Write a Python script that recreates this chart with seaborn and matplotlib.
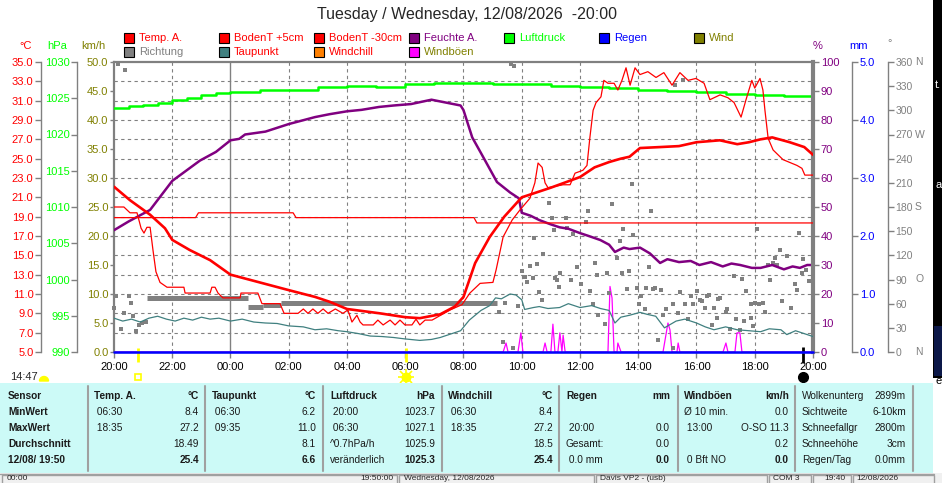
import matplotlib
matplotlib.use('Agg')
import matplotlib.pyplot as plt
import matplotlib.transforms as mtransforms
from matplotlib.patches import Rectangle, Wedge
import seaborn as sns

W, H = 942, 483

ROT = '#ff0000'
GRUEN = '#00ff00'
OLIV = '#808000'
LILA = '#800080'
BLAU = '#0000ff'
GRAU = '#808080'
TEAL = '#408080'
ORANGE = '#ff8000'
MAGENTA = '#ff00ff'
CYAN_BG = '#ccfaf7'

# Zeitachse: Stunden ab Dienstag 20:00
zeit_ticks = [0, 2, 4, 6, 8, 10, 12, 14, 16, 18, 20, 22, 24]
zeit_labels = ['20:00', '22:00', '00:00', '02:00', '04:00', '06:00', '08:00',
               '10:00', '12:00', '14:00', '16:00', '18:00', '20:00']

# Temp. A. (°C)
temp_h = [0, 0.55, 1.24, 1.75, 2, 2.6, 3.3, 4.0, 5.0, 6.0,
          6.9, 7.4, 8.0, 9.13, 10.0, 10.5, 11.2, 11.7, 12.0, 12.4,
          12.9, 13.4, 14.0, 15.0, 16.0, 16.5, 17.0, 17.4, 17.7, 18.06,
          18.75, 19.4, 20.0, 20.8, 21.4, 21.8, 22.2, 22.6, 23.2, 23.7,
          24]
temp_c = [22.1, 20.7, 19.2, 17.8, 16.6, 15.55, 14.5, 13.0, 12.2, 11.4,
          10.7, 10.2, 9.45, 9.0, 8.6, 8.5, 8.9, 9.7, 10.7, 14.2,
          16.9, 19.0, 21.0, 22.0, 23.1, 24.1, 24.65, 25.0, 25.2, 26.1,
          26.2, 26.3, 26.7, 26.9, 26.5, 26.7, 27.0, 27.2, 26.7, 26.2,
          25.4]

# BodenT +5cm (°C)
boden5_h = [0, 0.34, 0.55, 0.79, 0.93, 1.03, 1.13, 1.24, 1.34, 1.44,
            1.58, 1.82, 2.4, 2.44, 3.3, 3.36, 3.47, 3.57, 3.74, 4.33,
            4.36, 4.94, 5.08, 5.7, 5.84, 6.32, 6.5, 6.66, 6.83, 7.0,
            7.18, 7.35, 7.6, 7.86, 8.03, 8.17, 8.34, 8.45, 8.55, 8.9,
            9.06, 9.24, 9.48, 9.65, 9.82, 9.99, 10.23, 10.37, 10.5, 10.68,
            10.92, 11.54, 11.95, 12.22, 12.57, 13.01, 13.12, 13.36, 13.67, 13.94,
            14.28, 14.45, 14.56, 14.7, 14.8, 14.9, 15.42, 15.66, 15.83, 16.1,
            16.24, 16.34, 16.45, 16.55, 16.72, 16.82, 16.96, 17.17, 17.3, 17.44,
            17.58, 17.72, 17.89, 18.06, 18.33, 18.61, 18.88, 19.16, 19.43, 19.71,
            19.98, 20.26, 20.46, 20.81, 21.08, 21.29, 21.53, 21.7, 21.9, 22.0,
            22.18, 22.28, 22.35, 22.46, 22.63, 22.97, 23.45, 23.62, 23.72, 24]
boden5_c = [20.0, 20.0, 19.4, 19.4, 17.8, 17.3, 17.9, 17.9, 15.5, 13.3,
            12.2, 11.7, 11.7, 11.1, 11.1, 11.7, 11.7, 11.1, 10.6, 10.6,
            11.1, 11.1, 10.0, 10.0, 9.0, 9.0, 9.45, 9.0, 9.45, 9.0,
            9.45, 9.0, 9.45, 9.0, 9.35, 8.1, 8.8, 8.1, 7.8, 7.8,
            8.3, 7.8, 8.3, 7.8, 8.3, 7.8, 7.8, 8.4, 7.8, 8.3,
            8.3, 9.35, 9.9, 11.1, 12.1, 12.2, 13.5, 16.9, 18.65, 19.7,
            20.9, 22.5, 24.55, 24.1, 22.5, 22.0, 22.3, 22.3, 23.5, 23.8,
            24.3, 27.2, 30.0, 30.8, 31.4, 33.1, 32.8, 32.8, 32.1, 33.1,
            34.4, 32.6, 34.4, 33.7, 34.0, 33.4, 33.9, 32.6, 33.9, 33.1,
            33.3, 32.8, 31.1, 31.6, 31.3, 30.8, 29.3, 31.1, 33.1, 32.3,
            33.3, 32.1, 30.0, 27.1, 25.9, 24.9, 24.3, 24.0, 23.3, 23.3]

# BodenT -30cm (°C)
boden30_h = [0, 2.8, 2.9, 6.15, 6.25, 12.36, 12.46, 24]
boden30_c = [18.9, 18.9, 19.4, 19.4, 18.9, 18.9, 18.35, 18.35]

# Taupunkt (°C)
tau_h = [0, 0.3, 0.6, 0.9, 1.2, 1.5, 1.8, 2.1, 2.4, 2.7,
         3.0, 3.3, 3.6, 4.0, 4.4, 4.8, 5.2, 5.6, 6.0, 6.5,
         6.9, 7.3, 7.7, 8.0, 8.4, 8.8, 9.2, 9.6, 10.0, 10.5,
         10.9, 11.2, 11.6, 11.9, 12.2, 12.6, 12.9, 13.1, 13.3, 13.6,
         13.8, 14.0, 14.1, 14.4, 14.6, 14.9, 15.3, 15.6, 16.0, 16.4,
         16.7, 17.0, 17.2, 17.4, 17.7, 18.06, 18.3, 18.6, 18.9, 19.3,
         19.6, 20.0, 20.3, 20.6, 21.0, 21.4, 21.8, 22.2, 22.5, 22.9,
         23.1, 23.4, 23.7, 24]
tau_c = [8.5, 8.2, 8.4, 8.1, 8.5, 8.7, 8.4, 8.2, 8.5, 8.3,
         8.6, 8.4, 8.5, 8.2, 8.4, 8.1, 8.0, 7.95, 7.7, 7.6,
         7.3, 7.4, 7.2, 7.1, 6.9, 6.65, 6.6, 6.5, 6.35, 6.2,
         6.3, 6.5, 6.9, 7.2, 8.3, 9.3, 9.8, 10.6, 10.5, 11.0,
         10.9, 10.4, 9.4, 9.6, 9.7, 9.5, 9.6, 10.0, 9.6, 9.8,
         9.5, 9.3, 8.0, 8.6, 8.8, 9.1, 8.9, 8.7, 7.5, 8.2,
         8.4, 8.0, 7.6, 7.3, 7.6, 7.3, 7.2, 7.1, 7.4, 7.3,
         6.8, 7.2, 6.9, 6.6]

# Feuchte A. (%)
feuchte_h = [0, 0.5, 1.24, 2, 2.95, 3.5, 4.0, 4.3, 4.5, 5.2,
             6, 6.9, 7.4, 8.0, 8.5, 9.1, 9.6, 10.2, 10.9, 11.4,
             11.9, 12.0, 12.3, 12.6, 13.15, 13.6, 13.9, 14.0, 14.3, 14.6,
             15.0, 15.3, 15.6, 16.0, 16.3, 16.7, 17.0, 17.2, 17.5, 17.7,
             18.06, 18.4, 18.75, 19.0, 19.4, 19.8, 20.1, 20.5, 20.9, 21.2,
             21.5, 21.9, 22.2, 22.6, 23.0, 23.3, 23.55, 23.8, 24]
feuchte_pct = [42, 45, 49, 59, 66, 69, 73, 73.5, 75, 76,
               78.6, 81, 82, 83, 83.5, 84.5, 85, 85.5, 87, 86,
               85, 83.4, 74, 68.6, 58.6, 55, 53, 48, 47, 45.5,
               44, 43, 42.5, 41, 40, 38.6, 37, 34.5, 36, 35.5,
               36, 34, 30.7, 32, 31, 31.4, 30, 31, 29.5, 30.5,
               30, 29, 29, 30, 28.5, 29.5, 29, 30, 30]

# Luftdruck (hPa)
luft_h = [0, 0.5, 1, 1.5, 2, 2.5, 3, 3.5, 4, 4.5,
          5, 6, 7, 8, 9, 10, 11, 12, 13, 14,
          15, 16, 17, 18, 19, 20, 21, 22, 23, 24]
luft_hpa = [1023.7, 1023.9, 1024.1, 1024.4, 1024.8, 1025.1, 1025.45, 1025.7, 1025.9, 1025.9,
            1026.1, 1026.2, 1026.5, 1026.7, 1026.6, 1026.9, 1027.1, 1027.05, 1027.0, 1026.9,
            1026.7, 1026.5, 1026.35, 1026.2, 1026.0, 1025.9, 1025.65, 1025.45, 1025.35, 1025.3]

# Windböen (km/h)
boeen_h = [0, 13.36, 13.46, 13.53, 13.87, 13.97, 14.04, 14.73, 14.8, 14.87,
           15.0, 15.07, 15.14, 15.24, 15.31, 15.38, 15.42, 15.49, 16.96, 17.03,
           17.1, 17.17, 17.27, 17.3, 17.41, 18.85, 19.02, 19.09, 19.16, 19.33,
           19.37, 19.43, 20.91, 21.01, 21.08, 21.32, 21.39, 21.49, 21.56, 24]
boeen_kmh = [0, 0, 1.55, 0, 0, 3.3, 0, 0, 1.55, 0,
             0, 4.8, 0, 0, 3.3, 0, 2.9, 0, 0, 11.3,
             9.3, 0, 0, 1.55, 0, 0, 5.0, 3.8, 0, 0,
             1.55, 0, 0, 1.55, 0, 0, 3.3, 3.3, 0, 0]

# Regen (mm)
regen_h = [0, 24]
regen_mm = [0.0, 0.0]

# Richtung (°), Einzelwerte
richtung_h = [0.00, 0.07, 0.14, 0.24, 0.34, 0.38, 0.52, 0.58, 0.65, 0.76,
              0.86, 0.96, 1.10, 13.22, 13.36, 13.42, 13.63, 13.70, 13.73, 13.87,
              14.00, 14.11, 14.18, 14.28, 14.39, 14.42, 14.52, 14.59, 14.70, 14.73,
              14.94, 15.04, 15.11, 15.14, 15.21, 15.28, 15.31, 15.52, 15.55, 15.69,
              15.76, 15.90, 16.03, 16.21, 16.27, 16.34, 16.45, 16.52, 16.58, 16.62,
              16.86, 16.93, 17.00, 17.10, 17.27, 17.37, 17.44, 17.48, 17.61, 17.68,
              17.79, 17.82, 17.96, 18.03, 18.09, 18.23, 18.27, 18.37, 18.44, 18.51,
              18.58, 18.68, 18.78, 18.85, 18.95, 19.19, 19.19, 19.26, 19.37, 19.43,
              19.54, 19.61, 19.71, 19.81, 19.88, 20.02, 20.12, 20.19, 20.29, 20.36,
              20.43, 20.53, 20.60, 20.70, 20.74, 20.81, 21.01, 21.05, 21.15, 21.29,
              21.36, 21.49, 21.56, 21.63, 21.70, 21.87, 21.87, 21.94, 22.01, 22.08,
              22.15, 22.28, 22.35, 22.46, 22.52, 22.63, 22.70, 22.76, 22.87, 22.94,
              23.11, 23.24, 23.38, 23.45, 23.52, 23.62, 23.66, 23.76, 23.86]
richtung_grad = [54.6, 69.5, 358, 28.6, 48.4, 350, 69.5, 60.8, 44.7, 26.1,
                 33.5, 36.0, 37.2, 49.7, 12.4, 60.8, 358, 5.0, 355, 57.1,
                 100.6, 93.1, 86.9, 106.8, 91.9, 141.5, 109.2, 74.5, 64.6, 121.7,
                 185.0, 166.3, 151.5, 91.9, 89.4, 80.7, 98.1, 166.3, 153.9, 89.4,
                 146.5, 105.5, 84.4, 161.4, 175.0, 75.7, 59.6, 110.5, 95.6, 45.9,
                 34.8, 98.1, 73.2, 183.7, 116.7, 137.8, 98.1, 152.7, 78.2, 100.6,
                 208.6, 145.2, 79.4, 59.6, 69.5, 53.4, 79.4, 105.5, 175.0, 78.2,
                 79.4, 14.9, 77.0, 45.9, 53.4, 5.0, 59.6, 331.5, 48.4, 74.5,
                 337.7, 59.6, 41.0, 69.5, 59.6, 75.7, 64.6, 63.3, 54.6, 69.5,
                 70.8, 33.5, 54.6, 42.2, 65.8, 67.0, 49.7, 53.4, 28.6, 94.3,
                 41.0, 27.3, 90.6, 38.5, 75.7, 59.6, 42.2, 32.3, 60.8, 152.7,
                 59.6, 60.8, 49.7, 108.0, 89.4, 110.5, 116.7, 108.0, 126.6, 63.3,
                 119.2, 54.6, 84.4, 77.0, 147.7, 98.1, 115.5, 101.8, 88.1]

# Richtung, dichte Abschnitte in der Nacht
richtung_block_von = [1.13, 4.60, 5.10, 5.75]
richtung_block_bis = [4.60, 5.10, 5.75, 13.15]
richtung_block_grad = [67, 56, 58, 61]

# Sonnenuntergang, Sonnenaufgang, aktuelle Zeit
sonne_unter_h = 0.82
sonne_auf_h = 10.03
jetzt_h = 23.67

# Achsen-Beschriftungen
temp_ticks = [5, 7, 9, 11, 13, 15, 17, 19, 21, 23, 25, 27, 29, 31, 33, 35]
hpa_ticks = [990, 995, 1000, 1005, 1010, 1015, 1020, 1025, 1030]
kmh_ticks = [0, 5, 10, 15, 20, 25, 30, 35, 40, 45, 50]
pct_ticks = [0, 10, 20, 30, 40, 50, 60, 70, 80, 90, 100]
mm_ticks = [0, 1, 2, 3, 4, 5]
grad_ticks = [0, 30, 60, 90, 120, 150, 180, 210, 240, 270, 300, 330, 360]
grad_himmel = {360: 'N', 270: 'W', 180: 'S', 90: 'O', 0: 'N'}

# Legende
legende_namen = ['Temp. A.', 'BodenT +5cm', 'BodenT -30cm', 'Feuchte A.', 'Luftdruck', 'Regen', 'Wind',
                 'Richtung', 'Taupunkt', 'Windchill', 'Windböen']
legende_box = [ROT, ROT, ROT, LILA, GRUEN, BLAU, OLIV, GRAU, TEAL, ORANGE, MAGENTA]
legende_text = [ROT, ROT, ROT, LILA, GRUEN, BLAU, OLIV, GRAU, ROT, ROT, OLIV]

# Tabelle unten
tab_links = [
    ['Sensor', 'MinWert', 'MaxWert', 'Durchschnitt', '12/08/ 19:50'],
    ['Temp. A.', ' 06:30', ' 18:35', '', ''],
    ['Taupunkt', ' 06:30', ' 09:35', '', ''],
    ['Luftdruck', ' 20:00', ' 06:30', '^0.7hPa/h', 'veränderlich'],
    ['Windchill', ' 06:30', ' 18:35', '', ''],
    ['Regen', '', ' 20:00', 'Gesamt:', ' 0.0 mm'],
    ['Windböen', 'Ø 10 min.', ' 13:00', '', ' 0 Bft NO'],
    ['Wolkenunterg', 'Sichtweite', 'Schneefallgr', 'Schneehöhe', 'Regen/Tag'],
]
tab_rechts = [
    ['', '', '', '', ''],
    ['°C', '8.4', '27.2', '18.49', '25.4'],
    ['°C', '6.2', '11.0', '8.1', '6.6'],
    ['hPa', '1023.7', '1027.1', '1025.9', '1025.3'],
    ['°C', '8.4', '27.2', '18.5', '25.4'],
    ['mm', '', '0.0', '0.0', '0.0'],
    ['km/h', '0.0', 'O-SO 11.3', '0.2', '0.0'],
    ['2899m', '6-10km', '2800m', '3cm', '0.0mm'],
]
status_texte = ['00:00', 'Wednesday, 12/08/2026', 'Davis VP2 - (usb)', 'COM 3', '19:40', '12/08/2026']


sns.set_style('white')
plt.rcParams['font.family'] = ['Liberation Sans', 'DejaVu Sans']
plt.rcParams['axes.linewidth'] = 1.0


def fx(x):
    return x / W


def fy(y):
    return 1 - y / H


fig = plt.figure(figsize=(W / 100, H / 100), dpi=100, facecolor='white')
ax = fig.add_axes([fx(114), fy(352), 699 / W, 290 / H])
ax.set_facecolor('white')


def zusatzachse(seite, pos, ticks, labels, farbe, groesse=8):
    a = ax.twinx()
    for s in a.spines.values():
        s.set_visible(False)
    a.spines[seite].set_visible(True)
    a.spines[seite].set_position(('axes', pos))
    a.spines[seite].set_color(GRAU)
    a.spines[seite].set_linewidth(1.0)
    if seite == 'left':
        a.yaxis.tick_left()
    else:
        a.yaxis.tick_right()
    a.set_yticks(ticks, labels)
    a.tick_params(axis='y', color=GRAU, labelcolor=farbe, length=4, width=1,
                  labelsize=groesse, pad=1.5, left=(seite == 'left'), right=(seite == 'right'))
    a.grid(False)
    return a


ax_grad = zusatzachse('right', 1.1073, grad_ticks, [str(g) for g in grad_ticks], GRAU, 7.5)
ax_hpa = zusatzachse('left', -0.0529, hpa_ticks, [str(p) for p in hpa_ticks], GRUEN)
ax_pct = zusatzachse('right', 1.0, pct_ticks, [str(p) for p in pct_ticks], LILA)
ax_c = zusatzachse('left', -0.1044, temp_ticks, [f'{t:.1f}' for t in temp_ticks], ROT)
ax_mm = zusatzachse('right', 1.0558, mm_ticks, [f'{m:.1f}' for m in mm_ticks], BLAU)
ax_pct.spines['right'].set_linewidth(3.0)

# Rahmen der Hauptachse (km/h)
for s in ['top', 'left']:
    ax.spines[s].set_color(GRAU)
    ax.spines[s].set_linewidth(1.6)
ax.spines['bottom'].set_color(GRAU)
ax.spines['bottom'].set_linewidth(1.0)
ax.spines['right'].set_visible(False)
ax.set_yticks(kmh_ticks, [f'{v:.1f}' for v in kmh_ticks])
ax.set_xticks(zeit_ticks, zeit_labels)
ax.tick_params(axis='y', color=GRAU, labelcolor=OLIV, length=3, width=1, labelsize=8, pad=1, left=True)
ax.tick_params(axis='x', color=GRAU, labelcolor='black', length=4, width=1, labelsize=8, pad=3, bottom=True)
ax.grid(False)

# Gitter
for t, lab in zip(zeit_ticks[1:-1], zeit_labels[1:-1]):
    if lab == '00:00':
        ax.axvline(t, color=GRAU, lw=1.0, ls='-', zorder=0)
    else:
        ax.axvline(t, color=GRAU, lw=0.8, ls=(0, (3, 3)), zorder=0)
trans_c = mtransforms.blended_transform_factory(ax.transAxes, ax_c.transData)
ax.hlines(temp_ticks[1:-1], 0, 1, transform=trans_c, color=GRAU, lw=0.8, ls=(0, (3, 3)), zorder=0)

# Windböen
sns.lineplot(x=boeen_h, y=boeen_kmh, ax=ax, color=MAGENTA, linewidth=0.9)

# Richtung
for von, bis, g in zip(richtung_block_von, richtung_block_bis, richtung_block_grad):
    ax_grad.hlines(g, von, bis, color=GRAU, lw=3.6)
sns.scatterplot(x=richtung_h, y=richtung_grad, ax=ax_grad, marker='s', s=11,
                color=GRAU, linewidth=0, clip_on=False)

# Luftdruck
sns.lineplot(x=luft_h, y=luft_hpa, ax=ax_hpa, color=GRUEN, linewidth=1.8, drawstyle='steps-post')

# Feuchte
sns.lineplot(x=feuchte_h, y=feuchte_pct, ax=ax_pct, color=LILA, linewidth=1.8)

# Temperaturen
sns.lineplot(x=boden30_h, y=boden30_c, ax=ax_c, color=ROT, linewidth=0.9)
sns.lineplot(x=tau_h, y=tau_c, ax=ax_c, color=TEAL, linewidth=0.9)
sns.lineplot(x=boden5_h, y=boden5_c, ax=ax_c, color=ROT, linewidth=0.9)
sns.lineplot(x=temp_h, y=temp_c, ax=ax_c, color=ROT, linewidth=1.9)

# Regen
sns.lineplot(x=regen_h, y=regen_mm, ax=ax_mm, color=BLAU, linewidth=1.8, clip_on=False)

ax.set_xlim(0, 24)
ax.set_ylim(0, 50)
ax_c.set_ylim(5, 35)
ax_hpa.set_ylim(990, 1030)
ax_pct.set_ylim(0, 100)
ax_mm.set_ylim(0, 5)
ax_grad.set_ylim(0, 360)
for a in [ax, ax_c, ax_hpa, ax_pct, ax_mm, ax_grad]:
    a.set_xlabel('')
    a.set_ylabel('')

# Himmelsrichtungen neben der Gradachse
trans_g = mtransforms.blended_transform_factory(fig.transFigure, ax_grad.transData)
for g, b in grad_himmel.items():
    ax_grad.text(fx(915), g, b, transform=trans_g, color=GRAU, fontsize=7.5, ha='left', va='center')

# Sonne / aktuelle Zeit unter der Zeitachse
trans_xa = mtransforms.blended_transform_factory(ax.transData, ax.transAxes)


def ay(y):
    return (352 - y) / 290


for h, farbe, y1, y2 in [(sonne_unter_h, '#ffff00', 348, 362), (sonne_auf_h, '#ffff00', 348, 362),
                         (jetzt_h, 'black', 347, 363)]:
    ax.plot([h, h], [ay(y1), ay(y2)], transform=trans_xa, clip_on=False, color=farbe, lw=2, solid_capstyle='butt')
ax.plot(sonne_unter_h, ay(377), marker='s', ms=5, mfc='none', mec='#ffff00', mew=1.2,
        transform=trans_xa, clip_on=False)
for m, ms in [('o', 6), ('+', 11), ('x', 9)]:
    ax.plot(sonne_auf_h, ay(377), marker=m, ms=ms, color='#ffff00', mew=1.2, transform=trans_xa, clip_on=False)
ax.plot(jetzt_h, ay(377), marker='o', ms=7, color='black', transform=trans_xa, clip_on=False)

# Titel und Einheiten
fig.text(fx(467), fy(14), 'Tuesday / Wednesday, 12/08/2026  -20:00', ha='center', va='center', fontsize=11.5)
for x, y, s, c in [(26, 46, '°C', ROT), (57, 46, 'hPa', GRUEN), (93, 46, 'km/h', OLIV),
                   (818, 46, '%', LILA), (859, 46, 'mm', BLAU), (890, 43, '°', GRAU)]:
    fig.text(fx(x), fy(y), s, color=c, fontsize=8, ha='center', va='center')
fig.text(fx(10), fy(377), '14:47', fontsize=8, va='center')
fig.add_artist(Wedge((44 / 100, (H - 381) / 100), 0.045, 0, 180, transform=fig.dpi_scale_trans,
                     color='#ffff00'))

# Legende
for i, (name, box, tc) in enumerate(zip(legende_namen, legende_box, legende_text)):
    zeile, spalte = (0, i) if i < 7 else (1, i - 7)
    x0 = 124 + 95 * spalte
    yc = 38 + 14 * zeile
    fig.add_artist(Rectangle((fx(x0), fy(yc + 5)), 10 / W, 10 / H, transform=fig.transFigure,
                             facecolor=box, edgecolor='black', lw=0.8))
    fig.text(fx(x0 + 15), fy(yc), name, color=tc, fontsize=8, va='center')

# Tabelle
fig.add_artist(Rectangle((0, fy(473)), fx(933), 90 / H, transform=fig.transFigure,
                         facecolor=CYAN_BG, edgecolor='none'))
links_x = [8, 94, 212, 330, 448, 566, 684, 802]
rechts_x = [None, 199, 316, 435, 553, 670, 789, 906]
trenner_x = [88, 205, 323, 442, 559, 678, 795, 913]
zeilen_y = [396, 412, 428, 444, 460]
for x in trenner_x:
    fig.add_artist(plt.Line2D([fx(x), fx(x)], [fy(386), fy(471)], transform=fig.transFigure,
                              color='#a0a0a0', lw=1.5))
for k in range(8):
    for r in range(5):
        fett_links = (k == 0) or (r == 0 and k < 7)
        fett_rechts = (r in (0, 4)) and k < 7
        if tab_links[k][r]:
            fig.text(fx(links_x[k]), fy(zeilen_y[r]), tab_links[k][r], fontsize=7.3, va='center',
                     fontweight='bold' if fett_links else 'normal', color='#1a1a1a')
        if rechts_x[k] and tab_rechts[k][r]:
            fig.text(fx(rechts_x[k]), fy(zeilen_y[r]), tab_rechts[k][r], fontsize=7.3, va='center', ha='right',
                     fontweight='bold' if fett_rechts else 'normal', color='#1a1a1a')

# Statusleiste
fig.add_artist(Rectangle((0, 0), 1, fy(473), transform=fig.transFigure, facecolor='#f0f0f0', edgecolor='none'))
fig.add_artist(plt.Line2D([0, fx(934)], [fy(473.5), fy(473.5)], transform=fig.transFigure, color='#a0a0a0', lw=1))
panels = [(2, 397), (399, 594), (596, 767), (769, 811), (813, 851), (853, 934)]
for x0, x1 in panels:
    fig.add_artist(Rectangle((fx(x0), fy(490)), (x1 - x0) / W, 15 / H, transform=fig.transFigure,
                             facecolor='#f0f0f0', edgecolor='#a0a0a0', lw=1))
status_x = [7, 404, 600, 773, 824, 856]
for x, s in zip(status_x, status_texte):
    fig.text(fx(x), fy(478.5), s, fontsize=6, va='center')
fig.text(fx(393), fy(478.5), '19:50:00', fontsize=6, va='center', ha='right')

# Fenster rechts daneben
fig.add_artist(Rectangle((fx(933), fy(378)), 9 / W, 378 / H, transform=fig.transFigure,
                         facecolor='black', edgecolor='none'))
fig.add_artist(Rectangle((fx(934), fy(376)), 8 / W, 50 / H, transform=fig.transFigure,
                         facecolor='#0c1848', edgecolor='none'))
fig.text(fx(935), fy(85), 't.', color='white', fontsize=8, va='center')
fig.text(fx(936), fy(185), 'a', color='white', fontsize=8, va='center')
fig.text(fx(935), fy(381), 'e', color='black', fontsize=8, va='center')

fig.savefig('out.png', dpi=100, facecolor='white')
